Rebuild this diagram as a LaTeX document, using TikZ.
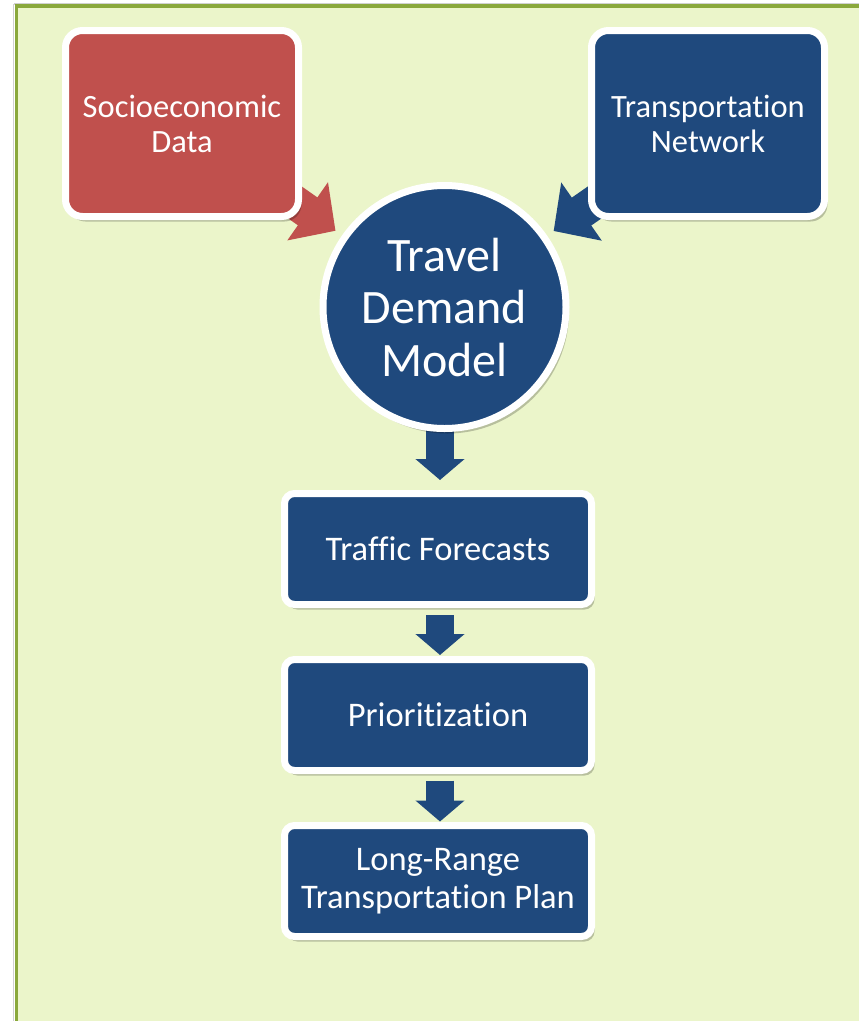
\documentclass[tikz,border=0pt]{standalone}
\usepackage{fontspec}
\setmainfont[Ligatures=NoCommon]{Carlito}
\usetikzlibrary{calc,shadows,arrows.meta}
\definecolor{bgfill}{HTML}{EBF5CA}
\definecolor{framegreen}{HTML}{8AA83C}
\definecolor{boxred}{HTML}{C0504D}
\definecolor{boxblue}{HTML}{1F497D}
\pgfdeclarelayer{bg}
\pgfdeclarelayer{arr}
\pgfsetlayers{bg,arr,main}
\tikzset{
  x=1pt, y=-1pt,
  boxshadow/.style={drop shadow={shadow xshift=3pt,shadow yshift=-5pt,fill=black,opacity=0.22}},
  topbox/.style={draw=white, line width=7pt, rounded corners=17pt, minimum width=233pt, minimum height=186pt,
    text=white, align=center, font=\fontsize{32.5}{35}\selectfont, boxshadow, inner sep=0pt},
  flowbox/.style={draw=white, line width=7pt, rounded corners=10pt, minimum width=307pt, minimum height=111pt,
    fill=boxblue, text=white, align=center, font=\fontsize{34.5}{38}\selectfont, boxshadow, inner sep=0pt},
  modelcircle/.style={circle, draw=white, line width=7pt, minimum size=243pt, fill=boxblue, text=white,
    align=center, font=\fontsize{48}{52.5}\selectfont, boxshadow, inner sep=0pt},
  downarrow/.style={draw=boxblue, line width=28pt, -{Triangle[width=48pt,length=21pt]}},
}
\begin{document}
\begin{tikzpicture}
\clip (0,0) rectangle (859,1021);
\useasboundingbox (0,0) rectangle (859,1021);
\begin{pgfonlayer}{bg}
  \fill[white] (0,0) rectangle (859,1021);
  \draw[black!18, line width=1.5pt] (14,4) -- (880,4);
  \draw[black!18, line width=1.5pt] (13.5,4) -- (13.5,1040);
  \draw[framegreen, fill=bgfill, line width=3.8pt] (16.5,6) rectangle (890,1050);
\end{pgfonlayer}

\node[topbox, fill=boxred] (soc) at (182,123.5) {Socioeconomic\\Data};
\node[topbox, fill=boxblue] (net) at (708,123.5) {Transportation\\Network};
\node[modelcircle] (tdm) at (444.5,307) {Travel\\Demand\\Model};
\node[flowbox] (tf) at (438,549) {Traffic Forecasts};
\node[flowbox] (pr) at (438,715) {Prioritization};
\node[flowbox] (lr) at (438,881) {Long-Range\\Transportation Plan};

\coordinate (t1) at ($(tf.north)+(2,-10)$);
\coordinate (t2) at ($(pr.north)+(2,-1)$);
\coordinate (t3) at ($(lr.north)+(2,-0.5)$);

\begin{pgfonlayer}{arr}
  \draw[boxred, line width=34pt, -{Triangle[width=69pt,length=34pt]}]
    (soc.center) -- ($(tdm.center)!133pt!(soc.center)$);
  \draw[boxblue, line width=34pt, -{Triangle[width=69pt,length=34pt]}]
    (net.center) -- ($(tdm.center)!133pt!(net.center)$);
  \draw[downarrow] (tdm.center -| t1) -- (t1);
  \draw[downarrow] ($(tf.south -| t2)+(0,7)$) -- (t2);
  \draw[downarrow] ($(pr.south -| t3)+(0,6.5)$) -- (t3);
\end{pgfonlayer}
\end{tikzpicture}
\end{document}
